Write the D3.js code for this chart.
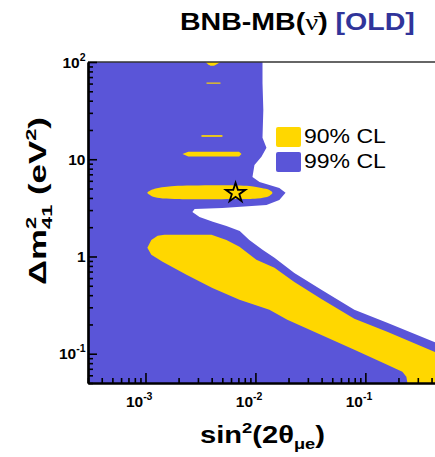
<!DOCTYPE html>
<html>
<head>
<meta charset="utf-8">
<script src="https://cdn.jsdelivr.net/npm/d3@7"></script>
<style>
  html, body { margin: 0; padding: 0; background: #fff; overflow: hidden; }
  text { font-family: "Liberation Sans", Arial, sans-serif; }
</style>
</head>
<body>
<svg id="chart" width="435" height="457"></svg>
<script>
// ---- data ---------------------------------------------------------------
const xDomain = [3e-4, 0.43];          // sin^2(2theta_mue)
const yDomain = [0.05, 100];           // Delta m^2_41 (eV^2)
const xMajorTicks = [1e-3, 1e-2, 1e-1];
const xTickExponents = ["-3", "-2", "-1"];
const yMajorTicks = [0.1, 1, 10, 100];
const yTickBases = ["10", "1", "10", "10"];
const yTickExponents = ["-1", "", "", "2"];

// 99% CL: right-hand edge of the allowed region, top to bottom
const cl99Edge = [
  [0.0116, 100], [0.0116, 60.8], [0.0118, 32.1], [0.0116, 16.6],
  [0.0126, 13.1], [0.01135, 10.6], [0.0098, 8.73], [0.0094, 6.58],
  [0.0109, 5.85], [0.0165, 5.07], [0.0188, 4.51], [0.0165, 3.82],
  [0.0126, 3.39], [0.0050, 3.16], [0.0028, 3.08], [0.00267, 2.87],
  [0.0031, 2.55], [0.0041, 2.27], [0.00545, 2.06], [0.0072, 1.83],
  [0.0088, 1.48], [0.0116, 1.17], [0.0149, 0.968], [0.0226, 0.678],
  [0.0398, 0.454], [0.0794, 0.283], [0.158, 0.208], [0.424, 0.132],
  [1.0, 0.09]
];

// 90% CL: main diagonal band
const cl90Band = [
  [0.00104, 1.23], [0.00113, 1.48], [0.00129, 1.63], [0.00149, 1.67],
  [0.00398, 1.67], [0.00545, 1.48], [0.00716, 1.26], [0.0102, 0.923],
  [0.0149, 0.764], [0.0226, 0.548], [0.0398, 0.366], [0.0794, 0.229],
  [0.158, 0.168], [0.424, 0.105], [1.0, 0.07], [1.0, 0.04],
  [0.25, 0.04], [0.236, 0.058], [0.217, 0.0652], [0.158, 0.0769],
  [0.0794, 0.1096], [0.0398, 0.156], [0.0195, 0.223], [0.0134, 0.283],
  [0.00716, 0.358], [0.00406, 0.475], [0.00236, 0.647], [0.00143, 0.881],
  [0.00113, 1.04]
];

// 90% CL: island around the best-fit point
const cl90Island = [
  [0.00104, 4.51], [0.00121, 4.96], [0.00149, 5.19], [0.00184, 5.32],
  [0.00882, 5.32], [0.01135, 5.07], [0.0134, 4.83], [0.0143, 4.51],
  [0.0134, 4.20], [0.0104, 3.95], [0.00716, 3.91], [0.00184, 3.91],
  [0.00134, 4.0], [0.00113, 4.20]
];

// 90% CL: narrow slivers at high Delta m^2
const cl90Slivers = [
  [[0.00351, 100], [0.00481, 100], [0.00445, 95], [0.0042, 91.5], [0.0039, 91.5], [0.0037, 95]],
  [[0.00359, 61.5], [0.00481, 61.5], [0.00481, 59.8], [0.00359, 59.8]],
  [[0.00323, 17.7], [0.00501, 17.7], [0.00501, 17.0], [0.00323, 17.0]],
  [[0.00217, 11.3], [0.00245, 11.95], [0.0071, 11.95], [0.00747, 11.3], [0.0071, 10.7], [0.00245, 10.7]]
];

const bestFit = [0.0066, 4.5];
const legendLabels = ["90% CL", "99% CL"];

// ---- layout -------------------------------------------------------------
const W = 435, H = 457;
const margin = { top: 62, right: 0, bottom: 74, left: 88 };
const x0 = margin.left, x1 = W - margin.right;
const y0 = margin.top, y1 = H - margin.bottom;

const BLUE = "#5a55d8";
const GOLD = "#ffd700";
const TITLE_BLUE = "#30349a";

const svg = d3.select("#chart");
const xScale = d3.scaleLog().domain(xDomain).range([x0, x1]);
const yScale = d3.scaleLog().domain(yDomain).range([y1, y0]);

svg.append("defs").append("clipPath").attr("id", "plotClip")
  .append("rect").attr("x", x0).attr("y", y0).attr("width", x1 - x0).attr("height", y1 - y0);

const plot = svg.append("g").attr("clip-path", "url(#plotClip)");
const line = d3.line().x(d => xScale(d[0])).y(d => yScale(d[1]));

// 99% CL region: everything left of the edge
const cl99Poly = [[xDomain[0] * 0.5, yDomain[1] * 1.5], ...cl99Edge,
                  [cl99Edge[cl99Edge.length - 1][0], yDomain[0] * 0.5],
                  [xDomain[0] * 0.5, yDomain[0] * 0.5]];
plot.append("path").attr("d", line.curve(d3.curveLinearClosed)(cl99Poly)).attr("fill", BLUE);

// 90% CL regions
plot.append("path").attr("d", line.curve(d3.curveLinearClosed)(cl90Band)).attr("fill", GOLD);
plot.append("path").attr("d", line.curve(d3.curveCatmullRomClosed.alpha(0.5))(cl90Island)).attr("fill", GOLD);
cl90Slivers.forEach(s => {
  plot.append("path").attr("d", line.curve(d3.curveLinearClosed)(s)).attr("fill", GOLD);
});

// best-fit star
plot.append("path")
  .attr("d", d3.symbol(d3.symbolStar, 118)())
  .attr("transform", `translate(${xScale(bestFit[0])},${yScale(bestFit[1])})`)
  .attr("fill", "none").attr("stroke", "#000").attr("stroke-width", 1.8)
  .attr("stroke-linejoin", "miter");

// ---- axes ---------------------------------------------------------------
function minorTicks(domain) {
  const out = [];
  for (let e = -5; e <= 3; e++) {
    for (let k = 2; k <= 9; k++) {
      const v = k * Math.pow(10, e);
      if (v >= domain[0] && v <= domain[1]) out.push(v);
    }
  }
  return out;
}

// frame line along the top
svg.append("line").attr("x1", x0).attr("x2", x1).attr("y1", y0).attr("y2", y0)
  .attr("stroke", "#333").attr("stroke-width", 1.5);

const gxMinor = svg.append("g").attr("transform", `translate(0,${y1})`)
  .call(d3.axisBottom(xScale).tickValues(minorTicks(xDomain)).tickSize(-5).tickSizeOuter(0).tickFormat(""));
const gxMajor = svg.append("g").attr("transform", `translate(0,${y1})`)
  .call(d3.axisBottom(xScale).tickValues(xMajorTicks).tickSize(-10).tickSizeOuter(0).tickFormat(""));
const gyMinor = svg.append("g").attr("transform", `translate(${x0},0)`)
  .call(d3.axisLeft(yScale).tickValues(minorTicks(yDomain)).tickSize(-5).tickSizeOuter(0).tickFormat(""));
const gyMajor = svg.append("g").attr("transform", `translate(${x0},0)`)
  .call(d3.axisLeft(yScale).tickValues(yMajorTicks).tickSize(-9).tickSizeOuter(0).tickFormat(""));

[gxMinor, gxMajor, gyMinor, gyMajor].forEach(g => {
  g.selectAll(".tick line").attr("stroke", "#000").attr("stroke-width", 1.6);
  g.select(".domain").attr("stroke", "#000").attr("stroke-width", 2.2);
});

// tick labels (powers of ten)
const TICK_FS = 15.5, SUP_FS = 10.5;
xMajorTicks.forEach((v, i) => {
  const t = svg.append("text")
    .attr("x", xScale(v) + 7).attr("y", 407)
    .attr("text-anchor", "end").attr("font-weight", "bold").attr("font-size", TICK_FS);
  t.append("tspan").text("10");
  t.append("tspan").attr("font-size", SUP_FS).attr("dy", -7).text(xTickExponents[i]);
});
yMajorTicks.forEach((v, i) => {
  const t = svg.append("text")
    .attr("x", 85.5).attr("y", yScale(v) + 5.5)
    .attr("text-anchor", "end").attr("font-weight", "bold").attr("font-size", TICK_FS);
  t.append("tspan").text(yTickBases[i]);
  if (yTickExponents[i]) {
    t.append("tspan").attr("font-size", SUP_FS).attr("dy", -7).text(yTickExponents[i]);
  }
});

// stretch a text element horizontally to a given length
function fitLength(t, len, tx, ty, rot) {
  const w = t.node().getBBox().width;
  const s = len / w;
  t.attr("transform", `translate(${tx},${ty})${rot ? ` rotate(${rot})` : ""} scale(${s},1)`);
}

// x-axis title: sin^2(2 theta_mue)
{
  const t = svg.append("text").attr("font-weight", "bold").attr("font-size", 24);
  t.append("tspan").text("sin");
  t.append("tspan").attr("font-size", 15).attr("dy", -10).text("2");
  t.append("tspan").attr("dy", 10).text("(2θ");
  t.append("tspan").attr("font-size", 15).attr("dy", 6).text("μe");
  t.append("tspan").attr("dy", -6).text(")");
  fitLength(t, 125, 200, 443);
}

// y-axis title: Delta m^2_41 (eV^2)
{
  const t = svg.append("text").attr("font-weight", "bold").attr("font-size", 24);
  t.append("tspan").text("Δm");
  t.append("tspan").attr("font-size", 15).attr("dy", -10).text("2");
  t.append("tspan").attr("font-size", 15).attr("dx", -8.3).attr("dy", 16).text("41");
  t.append("tspan").attr("dy", -6).text(" (eV");
  t.append("tspan").attr("font-size", 15).attr("dy", -10).text("2");
  t.append("tspan").attr("dy", 10).text(")");
  fitLength(t, 168, 46, 285, -90);
}

// title
{
  const t = svg.append("text").attr("font-weight", "bold").attr("font-size", 24);
  t.append("tspan").text("BNB-MB(");
  t.append("tspan").attr("font-family", "'Liberation Serif', serif").attr("font-weight", "normal")
    .text("ν\u0304");
  t.append("tspan").text(") ");
  t.append("tspan").attr("fill", TITLE_BLUE).text("[OLD]");
  fitLength(t, 235, 180, 30);
}

// legend
const legendColors = [GOLD, BLUE];
legendLabels.forEach((lab, i) => {
  svg.append("rect")
    .attr("x", 276).attr("y", 127 + i * 25).attr("width", 25).attr("height", 20)
    .attr("rx", 2).attr("fill", legendColors[i]);
  const t = svg.append("text").attr("font-size", 21).text(lab);
  fitLength(t, 82, 304, 143 + i * 25);
});
</script>
</body>
</html>
